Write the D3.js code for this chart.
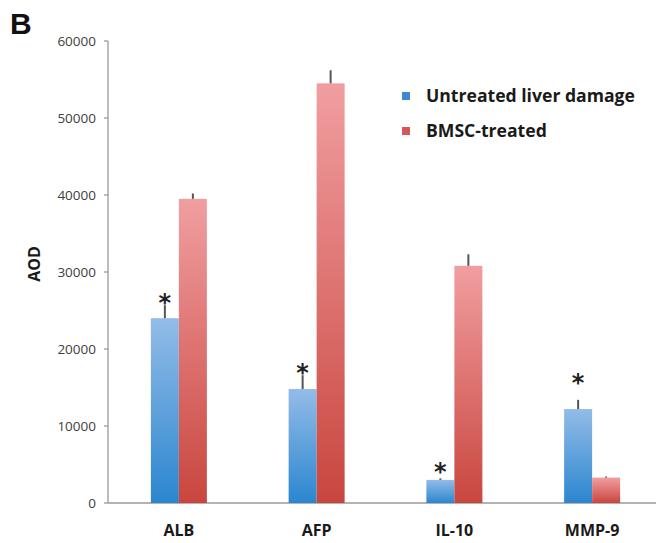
<!DOCTYPE html>
<html>
<head>
<meta charset="utf-8">
<script src="https://cdn.jsdelivr.net/npm/d3@7"></script>
<style>
  body { margin: 0; background: #fff; }
  svg { display: block; }
</style>
</head>
<body>
<svg id="chart"></svg>
<script>
// values
var markers = ['ALB', 'AFP', 'IL-10', 'MMP-9']
var seriesNames = ['Untreated liver damage', 'BMSC-treated']
var untreated = [24000, 14800, 3000, 12200]
var untreatedErr = [1700, 1800, 200, 1200]
var treated = [39500, 54500, 30800, 3300]
var treatedErr = [700, 1700, 1500, 150]
var starAt = [26700, 17700, 4800, 16300]   // where the * sits (only on untreated)
var yTicks = [0, 10000, 20000, 30000, 40000, 50000, 60000]

var width = 656,
    height = 543

var svg = d3.select('#chart')
    .attr('width', width)
    .attr('height', height)

var defs = svg.append('defs')
var grads = [
    {id: 'gBlue', top: '#93bce8', bottom: '#2b86cf'},
    {id: 'gRed', top: '#f19ea0', bottom: '#c9463f'}
]
grads.forEach(function(g) {
    var lg = defs.append('linearGradient')
        .attr('id', g.id)
        .attr('x1', 0).attr('y1', 0).attr('x2', 0).attr('y2', 1)
    lg.append('stop').attr('offset', '0%').attr('stop-color', g.top)
    lg.append('stop').attr('offset', '100%').attr('stop-color', g.bottom)
})

var y = d3.scaleLinear().domain([0, 60000]).range([503, 41])
var x = d3.scalePoint().domain(markers).range([110, 661]).padding(0.5)
var barW = 28

// axes
var axisColor = '#9a9a9a'
svg.append('line')
    .attr('x1', 108).attr('x2', width)
    .attr('y1', y(0)).attr('y2', y(0))
    .style('stroke', axisColor).style('stroke-width', 1.3)
svg.append('line')
    .attr('x1', 108).attr('x2', 108)
    .attr('y1', y(0)).attr('y2', y(60000))
    .style('stroke', axisColor).style('stroke-width', 1.3)

svg.selectAll('.ytick').data(yTicks)
    .enter()
    .append('line')
    .attr('class', 'ytick')
    .attr('x1', 104).attr('x2', 108)
    .attr('y1', function(d) { return y(d) })
    .attr('y2', function(d) { return y(d) })
    .style('stroke', axisColor).style('stroke-width', 1.3)

svg.selectAll('.ylab').data(yTicks)
    .enter()
    .append('text')
    .attr('class', 'ylab')
    .attr('x', 96)
    .attr('y', function(d) { return y(d) + 5 })
    .attr('text-anchor', 'end')
    .style('font-family', 'Open Sans')
    .style('font-size', '13.5px')
    .style('fill', '#404040')
    .text(function(d) { return d })

// bars
var groups = [
    {vals: untreated, err: untreatedErr, fill: 'url(#gBlue)', off: -barW},
    {vals: treated, err: treatedErr, fill: 'url(#gRed)', off: 0}
]
groups.forEach(function(g) {
    svg.selectAll(null).data(markers)
        .enter()
        .append('rect')
        .attr('x', function(d) { return x(d) + g.off })
        .attr('y', function(d, i) { return y(g.vals[i]) })
        .attr('width', barW)
        .attr('height', function(d, i) { return y(0) - y(g.vals[i]) })
        .attr('fill', g.fill)

    svg.selectAll(null).data(markers)
        .enter()
        .append('line')
        .attr('x1', function(d) { return x(d) + g.off + barW / 2 })
        .attr('x2', function(d) { return x(d) + g.off + barW / 2 })
        .attr('y1', function(d, i) { return y(g.vals[i]) })
        .attr('y2', function(d, i) { return y(g.vals[i] + g.err[i]) })
        .style('stroke', '#555')
        .style('stroke-width', 2)
})

svg.selectAll('.star').data(markers)
    .enter()
    .append('text')
    .attr('class', 'star')
    .attr('x', function(d) { return x(d) - barW / 2 })
    .attr('y', function(d, i) { return y(starAt[i]) + 14 })
    .attr('text-anchor', 'middle')
    .style('font-family', 'DejaVu Sans')
    .style('font-weight', 'bold')
    .style('font-size', '24px')
    .style('fill', '#222')
    .text('*')

// category labels
svg.selectAll('.xlab').data(markers)
    .enter()
    .append('text')
    .attr('class', 'xlab')
    .attr('x', function(d) { return x(d) })
    .attr('y', 536)
    .attr('text-anchor', 'middle')
    .style('font-family', 'Open Sans')
    .style('font-weight', 'bold')
    .style('font-size', '16px')
    .style('fill', '#1a1a1a')
    .text(function(d) { return d })

// y title
svg.append('text')
    .attr('transform', 'translate(40,264) rotate(-90)')
    .attr('text-anchor', 'middle')
    .style('font-family', 'Open Sans')
    .style('font-weight', 'bold')
    .style('font-size', '16px')
    .style('fill', '#1a1a1a')
    .text('AOD')

// panel letter
svg.append('text')
    .attr('x', 10).attr('y', 34)
    .style('font-family', 'Liberation Sans')
    .style('font-weight', 'bold')
    .style('font-size', '30px')
    .style('fill', '#111')
    .text('B')

// legend
var legColors = ['#3d8ad3', '#d2585b']
var leg = svg.selectAll('.leg').data(seriesNames)
    .enter()
    .append('g')
    .attr('class', 'leg')
    .attr('transform', function(d, i) { return 'translate(402,' + (92 + i * 35) + ')' })
leg.append('rect')
    .attr('width', 8).attr('height', 8)
    .attr('fill', function(d, i) { return legColors[i] })
leg.append('text')
    .attr('x', 24).attr('y', 10)
    .style('font-family', 'Open Sans')
    .style('font-weight', 'bold')
    .style('font-size', '17.6px')
    .style('fill', '#1a1a1a')
    .text(function(d) { return d })
</script>
</body>
</html>
